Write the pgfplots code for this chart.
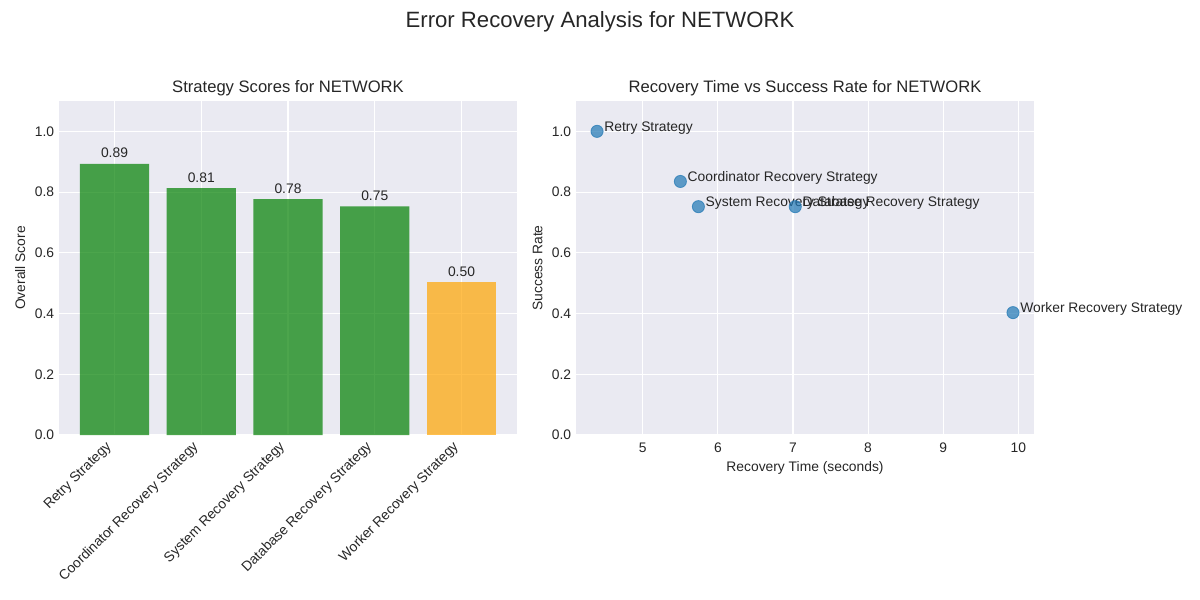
\documentclass[border=0pt]{standalone}
\usepackage{fontspec}
\setmainfont{Liberation Sans}
\usepackage{pgfplots}
\pgfplotsset{compat=1.18}
\definecolor{bgc}{HTML}{EAEAF2}
\definecolor{txt}{HTML}{262626}
\definecolor{mplgreen}{RGB}{0,128,0}
\definecolor{mplorange}{RGB}{255,165,0}
\definecolor{mplblue}{HTML}{1F77B4}
\pgfplotsset{
 mystyle/.style={
  scale only axis, width=331pt, height=241.38pt,
  anchor=south west,
  axis background/.style={fill=bgc},
  axis line style={draw=none},
  grid=major, major grid style={white, line width=0.8pt},
  tick style={draw=none},
  ticklabel style={font=\fontsize{10}{12}\selectfont, text=txt},
  label style={font=\fontsize{10}{12}\selectfont, text=txt},
  every axis title/.style={font=\fontsize{12}{14}\selectfont, text=txt, at={(0.5,1)}, anchor=base, yshift=5.8pt},
  /pgf/number format/assume math mode=true,
  ymin=0, ymax=1.1, ytick={0,0.2,0.4,0.6,0.8,1.0},
  yticklabel style={/pgf/number format/.cd, fixed, fixed zerofill, precision=1},
 }
}
\begin{document}
\begin{tikzpicture}
\path[use as bounding box] (0,0) rectangle (867.24pt,-433.62pt);
\node[anchor=base, font=\fontsize{16}{19}\selectfont, text=txt] at (433.62pt,-20.2pt) {Error Recovery Analysis for NETWORK};

\begin{axis}[mystyle, at={(42.64pt,-314.37pt)},
  title={Strategy Scores for NETWORK},
  xmin=-0.64, xmax=4.64, xtick={0,1,2,3,4},
  xticklabels={Retry Strategy, Coordinator Recovery Strategy, System Recovery Strategy, Database Recovery Strategy, Worker Recovery Strategy},
  xticklabel style={xshift=-7pt, yshift=2pt, rotate=45, anchor=north east, inner sep=1pt},
  ylabel={Overall Score},
  ybar, bar width=0.8, bar shift=0pt,
  nodes near coords={\pgfmathprintnumber[fixed,fixed zerofill,precision=2]{\pgfplotspointmeta}},
  every node near coord/.append style={font=\fontsize{10}{12}\selectfont, text=txt, text opacity=1, anchor=south, inner sep=0pt, yshift=4pt},
]
\addplot[draw=none, fill=mplgreen, fill opacity=0.7] coordinates {(0,0.893) (1,0.813) (2,0.777) (3,0.753)};
\addplot[draw=none, fill=mplorange, fill opacity=0.7] coordinates {(4,0.503)};
\end{axis}

\begin{axis}[mystyle, at={(416.28pt,-314.37pt)},
  title={Recovery Time vs Success Rate for NETWORK},
  xmin=4.11, xmax=10.21, xtick={5,6,7,8,9,10},
  xticklabel style={yshift=-2pt},
  xlabel={Recovery Time (seconds)},
  ylabel={Success Rate},
]
\addplot[only marks, mark=*, mark size=4.4pt,
  mark options={fill=mplblue, draw=mplblue, fill opacity=0.7, draw opacity=0.7, line width=0.6pt},
  point meta=explicit symbolic, nodes near coords,
  every node near coord/.append style={anchor=base west, xshift=5pt, font=\fontsize{10}{12}\selectfont, text=txt, text opacity=1, inner sep=0pt}]
coordinates {
 (4.39,1.0) [Retry Strategy]
 (5.50,0.835) [Coordinator Recovery Strategy]
 (5.74,0.752) [System Recovery Strategy]
 (7.03,0.752) [Database Recovery Strategy]
 (9.93,0.403) [Worker Recovery Strategy]
};
\end{axis}
\end{tikzpicture}
\end{document}
